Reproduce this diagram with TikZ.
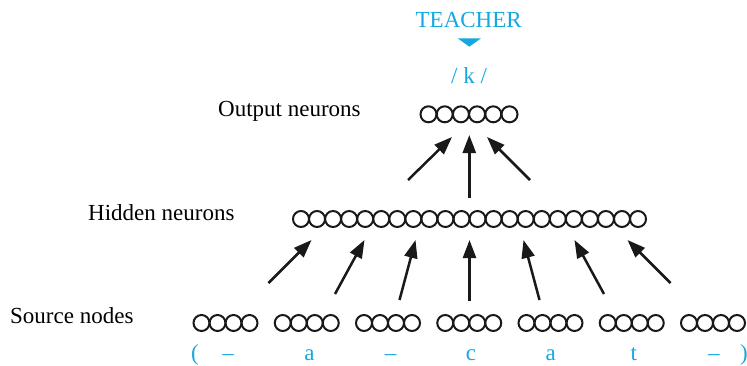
\documentclass[tikz,border=0pt]{standalone}
\usepackage{fontspec}
\setmainfont{Liberation Serif}
\usetikzlibrary{arrows.meta}
\definecolor{teach}{RGB}{20,168,225}
\begin{document}
\begin{tikzpicture}[x=1pt,y=-1pt,
  neuron/.style={circle,draw=black!90,line width=2pt,minimum size=16pt,inner sep=0pt},
  lab/.style={font=\fontsize{23}{26}\selectfont,inner sep=0pt,anchor=base west},
  blue/.style={font=\fontsize{23}{26}\selectfont,inner sep=0pt,anchor=base,text=teach},
  arr/.style={line width=2.5pt,draw=black!90,-{Triangle[length=18pt,width=13pt]}}]
\useasboundingbox (0,0) rectangle (747,365);
% teacher
\node[blue] (teacher) at (468.7,27.7) {TEACHER};
\fill[teach] (457.7,38.3) -- (481,38.3) -- (469.3,46.7) -- cycle;
\node[blue] (target) at (469,83.3) {/ k /};
% labels
\node[lab] (lout) at (218,116) {Output neurons};
\node[lab] (lhid) at (88,220) {Hidden neurons};
\node[lab] (lsrc) at (10,323) {Source nodes};
% output neurons
\foreach \i in {1,...,6}
  \node[neuron] (o\i) at ({469+16.2*(\i-3.5)},114.3) {};
% hidden neurons
\foreach \i in {1,...,22}
  \node[neuron] (h\i) at ({469.5+16.05*(\i-11.5)},219) {};
% source nodes
\foreach \g in {0,...,6}
  \foreach \j in {0,...,3}
    \node[neuron] (s\g-\j) at ({193.5+81.25*\g+8+16*\j},323) {};
% source letters
\foreach \x/\t [count=\k] in {195/(,228/–,309.5/a,390.5/–,471/c,550.7/a,633.8/t,713.8/–,744/)}
  \node[blue] (c\k) at (\x,360) {\t};
% arrow coordinates: hidden -> output
\coordinate (ho1t) at (408,180); \coordinate (ho1h) at (452,137);
\coordinate (ho2t) at (469.3,198); \coordinate (ho2h) at (469.3,135);
\coordinate (ho3t) at (530,180); \coordinate (ho3h) at (487,137);
\foreach \k in {1,2,3} \draw[arr] (ho\k t) -- (ho\k h);
% source -> hidden
\foreach \dt/\yt/\dh [count=\k] in {-201/283/-158,-134.5/294/-105,-70/300/-54,0/301/0,70/300/54,134.5/294/105,201/283/158}{
  \coordinate (sh\k t) at ({469.5+\dt},\yt);
  \coordinate (sh\k h) at ({469.5+\dh},240);
  \draw[arr] (sh\k t) -- (sh\k h);
}
\end{tikzpicture}
\end{document}
